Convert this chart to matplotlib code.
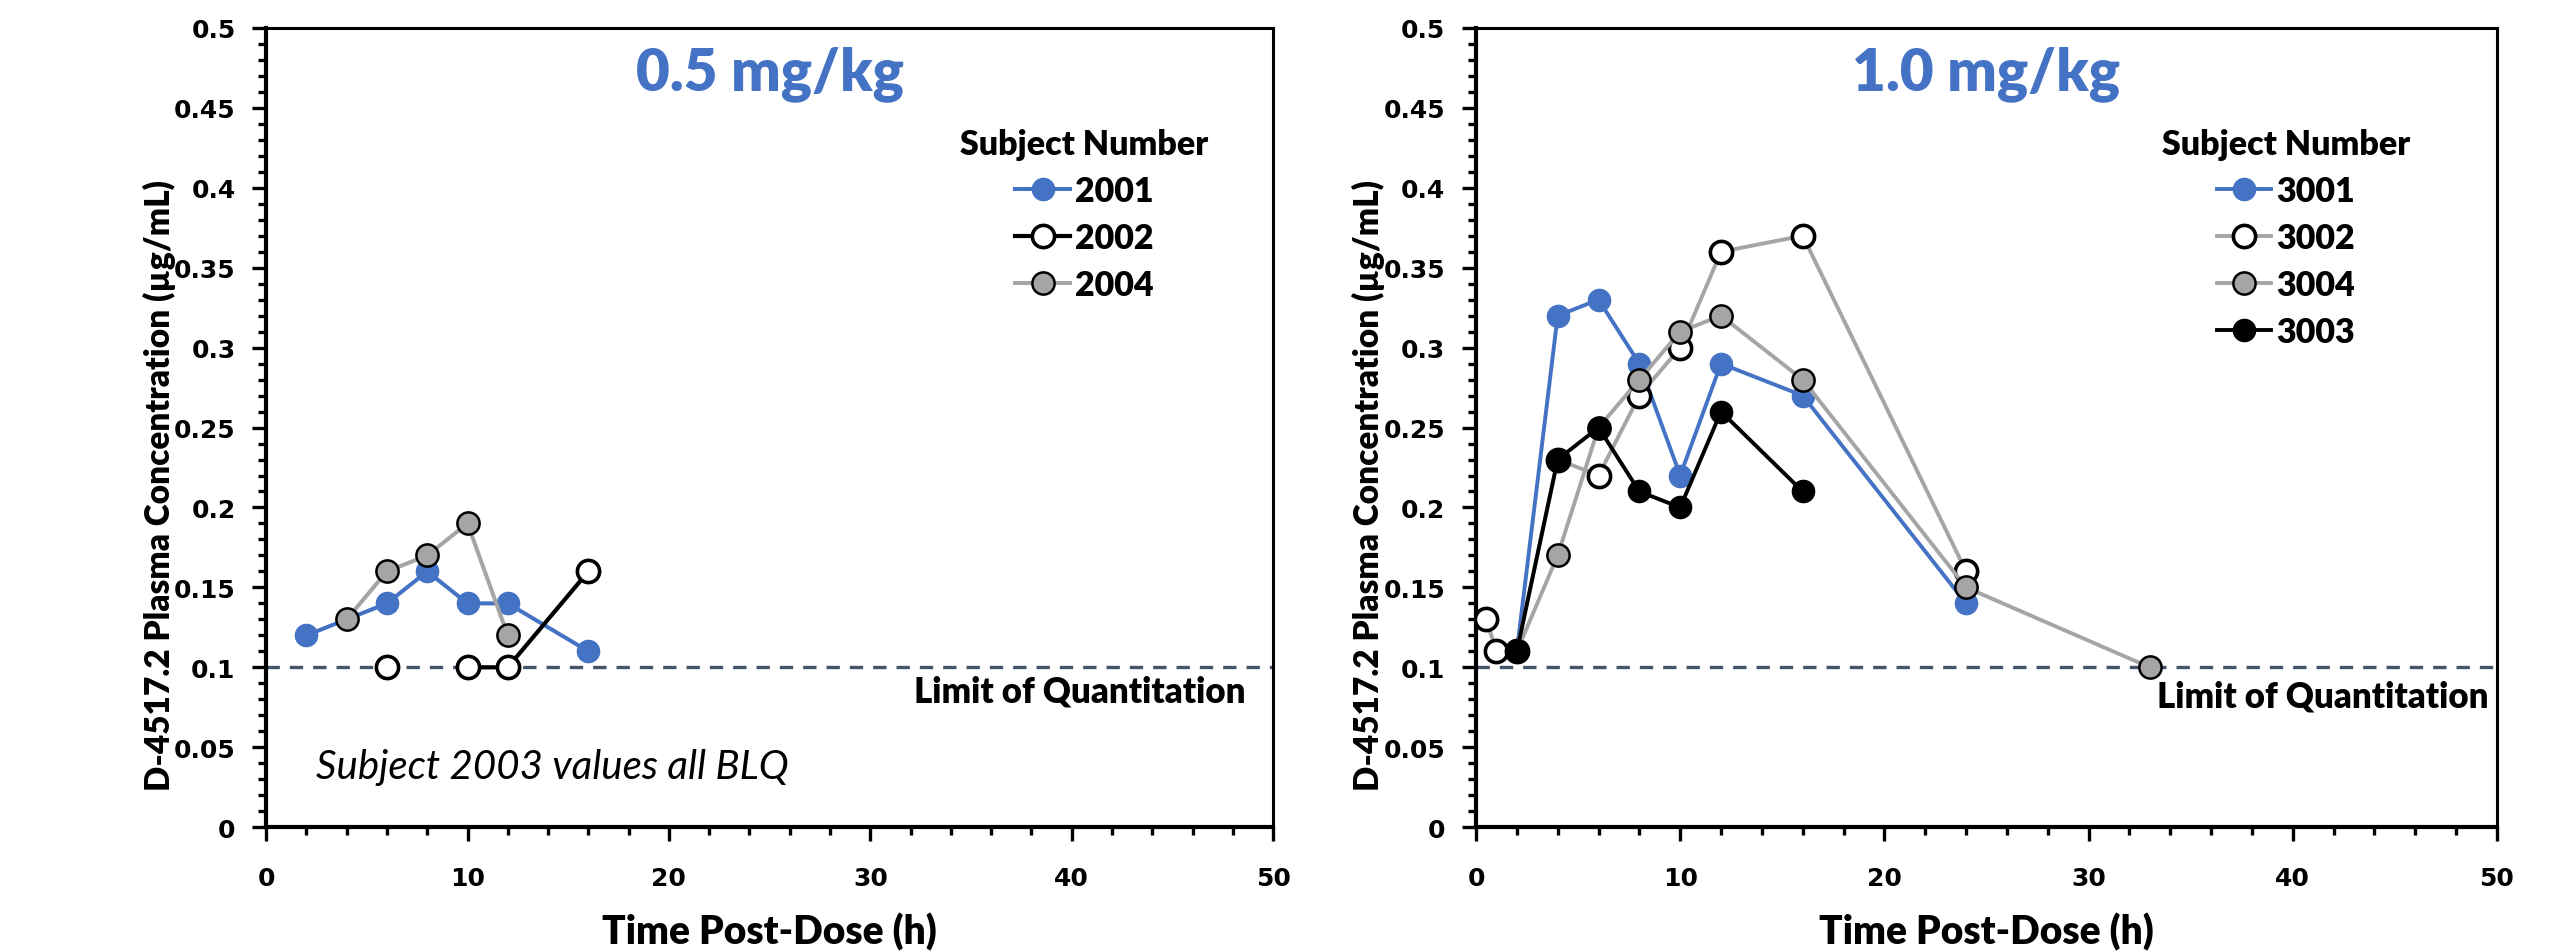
import numpy as np
import matplotlib.pyplot as plt
from matplotlib.ticker import MultipleLocator, FuncFormatter

# 0.5 mg/kg cohort
t_2001 = [2, 4, 6, 8, 10, 12, 16]
c_2001 = [0.12, 0.13, 0.14, 0.16, 0.14, 0.14, 0.11]
t_2002 = [6, 8, 10, 12, 16]
c_2002 = [0.10, np.nan, 0.10, 0.10, 0.16]
t_2004 = [4, 6, 8, 10, 12]
c_2004 = [0.13, 0.16, 0.17, 0.19, 0.12]

# 1.0 mg/kg cohort
t_3001 = [2, 4, 6, 8, 10, 12, 16, 24]
c_3001 = [0.11, 0.32, 0.33, 0.29, 0.22, 0.29, 0.27, 0.14]
t_3002 = [0.5, 1, 2, 4, 6, 8, 10, 12, 16, 24]
c_3002 = [0.13, 0.11, 0.11, 0.23, 0.22, 0.27, 0.30, 0.36, 0.37, 0.16]
t_3004 = [2, 4, 6, 8, 10, 12, 16, 24, 33]
c_3004 = [0.11, 0.17, 0.25, 0.28, 0.31, 0.32, 0.28, 0.15, 0.10]
t_3003 = [2, 4, 6, 8, 10, 12, 16]
c_3003 = [0.11, 0.23, 0.25, 0.21, 0.20, 0.26, 0.21]

loq = 0.1
xmax = 50
ymax = 0.5

blue = '#4472C4'
gray = '#A5A5A5'
slate = '#44546A'
txtfont = 'Lato'
tickfont = 'DejaVu Sans'

fig = plt.figure(figsize=(25.71, 9.53), dpi=100)
axL = fig.add_axes([0.1035, 0.131, 0.3917, 0.8386])
axR = fig.add_axes([0.5741, 0.131, 0.3971, 0.8386])


def setup(ax, title, ylab_x):
    ax.set_xlim(0, xmax)
    ax.set_ylim(0, ymax)
    ax.xaxis.set_major_locator(MultipleLocator(10))
    ax.xaxis.set_minor_locator(MultipleLocator(2))
    ax.yaxis.set_major_locator(MultipleLocator(0.05))
    ax.yaxis.set_minor_locator(MultipleLocator(0.01))
    ax.yaxis.set_major_formatter(FuncFormatter(lambda v, p: f"{round(v, 2):g}"))
    ax.tick_params(axis='both', which='major', direction='out', length=10, width=2.4,
                   labelsize=18)
    ax.tick_params(axis='both', which='minor', direction='out', length=6, width=2.4)
    ax.tick_params(axis='x', which='major', pad=18)
    ax.tick_params(axis='y', which='major', pad=12)
    for lab in ax.get_xticklabels() + ax.get_yticklabels():
        lab.set_fontfamily(tickfont)
        lab.set_fontweight('bold')
    for s in ['left', 'bottom']:
        ax.spines[s].set_linewidth(3.0)
    for s in ['top', 'right']:
        ax.spines[s].set_linewidth(2.2)
    ax.set_ylabel('D-4517.2 Plasma Concentration (µg/mL)', fontsize=24,
                  fontweight='heavy', family=txtfont)
    ax.yaxis.set_label_coords(ylab_x, 0.429)
    ax.set_xlabel('Time Post-Dose (h)', fontsize=28, fontweight='heavy', family=txtfont,
                  va='center')
    ax.xaxis.set_label_coords(0.5, -0.13)
    ax.text(0.5, 0.944, title, transform=ax.transAxes, ha='center', va='center',
            fontsize=42, fontweight='heavy', color=blue, family=txtfont)
    ax.plot([0, xmax], [loq, loq], ls=(0, (4, 3)), color=slate, lw=2.4, zorder=1)


setup(axL, '0.5 mg/kg', -0.089)
setup(axR, '1.0 mg/kg', -0.089)

ms = 16
axL.plot(t_2001, c_2001, color=blue, lw=2.9, marker='o', ms=ms, mfc=blue, mec=blue,
         label='2001', zorder=3)
axL.plot(t_2002, c_2002, color='black', lw=3.0, marker='o', ms=ms, mfc='white',
         mec='black', mew=2.6, label='2002', zorder=4)
axL.plot(t_2004, c_2004, color=gray, lw=2.9, marker='o', ms=ms, mfc=gray, mec='black',
         mew=1.8, label='2004', zorder=5)

axR.plot(t_3001, c_3001, color=blue, lw=2.8, marker='o', ms=ms, mfc=blue, mec=blue,
         label='3001', zorder=3)
axR.plot(t_3002, c_3002, color=gray, lw=2.8, marker='o', ms=ms, mfc='white',
         mec='black', mew=2.6, label='3002', zorder=4)
axR.plot(t_3004, c_3004, color=gray, lw=2.8, marker='o', ms=ms, mfc=gray, mec='black',
         mew=1.8, label='3004', zorder=5)
axR.plot(t_3003, c_3003, color='black', lw=2.8, marker='o', ms=ms, mfc='black',
         mec='black', label='3003', zorder=6)

leg_kw = dict(loc='upper left', frameon=False, title='Subject Number',
              handlelength=1.6, handletextpad=0.15, labelspacing=0.44,
              prop={'family': txtfont, 'weight': 'heavy', 'size': 24.5},
              title_fontproperties={'family': txtfont, 'weight': 'heavy', 'size': 24.5})
axL.legend(bbox_to_anchor=(0.659, 0.913), **leg_kw)
axR.legend(bbox_to_anchor=(0.642, 0.913), **leg_kw)

axL.text(0.973, 0.085, 'Limit of Quantitation', transform=axL.get_yaxis_transform(),
         ha='right', va='center', fontsize=25, fontweight='heavy', family=txtfont)
axR.text(0.992, 0.082, 'Limit of Quantitation', transform=axR.get_yaxis_transform(),
         ha='right', va='center', fontsize=25, fontweight='heavy', family=txtfont)
axL.text(0.05, 0.038, 'Subject 2003 values all BLQ', transform=axL.get_yaxis_transform(),
         ha='left', va='center', fontsize=29, style='italic', family=txtfont)

fig.savefig('out.png', dpi=100)
